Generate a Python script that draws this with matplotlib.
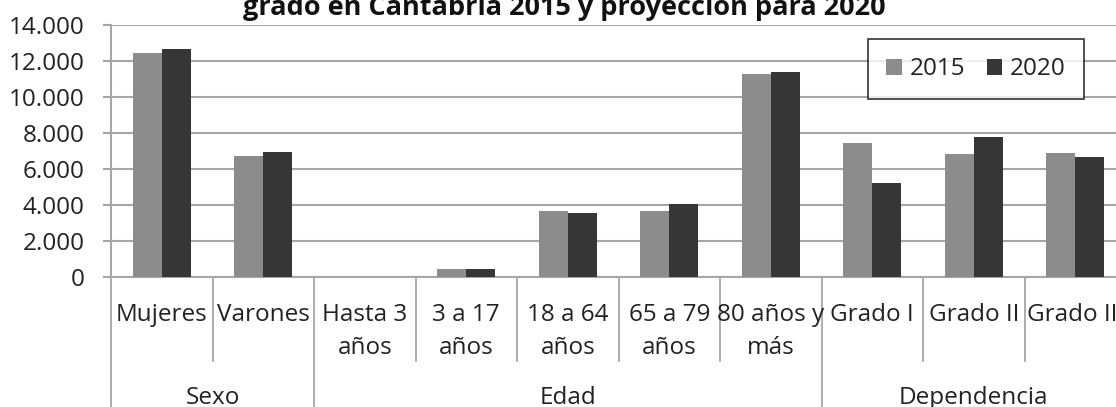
import numpy as np
import matplotlib
matplotlib.use('agg')
import matplotlib.pyplot as plt
from matplotlib.ticker import FuncFormatter, MultipleLocator
import matplotlib.transforms as mtrans

plt.rcParams['font.family'] = ['Open Sans', 'DejaVu Sans']

# data
categories = ['Mujeres', 'Varones', 'Hasta 3\naños', '3 a 17\naños', '18 a 64\naños',
              '65 a 79\naños', '80 años y\nmás', 'Grado I', 'Grado II', 'Grado III']
groups = ['Sexo', 'Edad', 'Dependencia']
group_sizes = [2, 5, 3]
series_names = ['2015', '2020']
v2015 = [12450, 6730, 0, 460, 3650, 3650, 11250, 7450, 6810, 6880]
v2020 = [12650, 6950, 0, 450, 3530, 4080, 11370, 5230, 7750, 6680]

c2015 = '#8c8c8c'
c2020 = '#363636'
gridc = '#a6a6a6'
txtc = '#222222'
fs = 17.5

fig = plt.figure(figsize=(11.16, 4.07), dpi=100, facecolor='w')
ax = fig.add_axes([0.0995, 0.3194, 0.9095, 0.6192])

x = np.arange(len(categories))
w = 0.285
ax.bar(x - w / 2, v2015, w, color=c2015, label=series_names[0], zorder=3)
ax.bar(x + w / 2, v2020, w, color=c2020, label=series_names[1], zorder=3)

ax.set_xlim(-0.5, len(categories) - 0.5)
ax.set_ylim(0, 14000)
ax.yaxis.set_major_locator(MultipleLocator(2000))
ax.yaxis.set_major_formatter(FuncFormatter(lambda v, p: f'{int(v):,}'.replace(',', '.')))
ax.grid(axis='y', color=gridc, linewidth=1.5, zorder=0)
ax.tick_params(axis='y', labelsize=fs, length=6, width=1.5, color=gridc, pad=13, labelcolor=txtc)
ax.set_xticks([])
for s in ['top', 'right']:
    ax.spines[s].set_visible(False)
ax.spines['left'].set_color(gridc)
ax.spines['left'].set_linewidth(1.5)
ax.spines['bottom'].set_color(gridc)
ax.spines['bottom'].set_linewidth(1.5)

# category labels and separators below the axis
trans = mtrans.blended_transform_factory(ax.transData, fig.transFigure)
def fy(py):
    return 1 - py / 407

for i, lab in enumerate(categories):
    ax.text(i, fy(303), lab, transform=trans, ha='center', va='top', fontsize=fs,
            linespacing=1.5, color=txtc)

bounds = np.cumsum([0] + group_sizes)
for k in range(len(categories) + 1):
    bottom = fy(407) if k in bounds else fy(361)
    ax.plot([k - 0.5, k - 0.5], [fy(277), bottom], transform=trans, color=gridc,
            linewidth=1.3, clip_on=False)

for g, start, n in zip(groups, bounds[:-1], group_sizes):
    ax.text(start - 0.5 + n / 2, fy(398), g, transform=trans, ha='center', va='center',
            fontsize=fs, color=txtc)

fig.text(0.506, fy(15), 'grado en Cantabria 2015 y proyección para 2020', ha='center',
         va='baseline', fontsize=19.5, fontweight='bold', color='#111111')

leg = ax.legend(loc='upper left', bbox_to_anchor=(868 / 1116, fy(39)), bbox_transform=fig.transFigure,
                ncol=2, fontsize=fs, frameon=True, fancybox=False, handlelength=0.65,
                handleheight=0.65, handletextpad=0.3, columnspacing=0.9, borderpad=0.75,
                borderaxespad=0)
leg.get_frame().set_edgecolor('#000000')
leg.get_frame().set_linewidth(1.2)
for t in leg.get_texts():
    t.set_color(txtc)

plt.savefig('out.png', dpi=100)
